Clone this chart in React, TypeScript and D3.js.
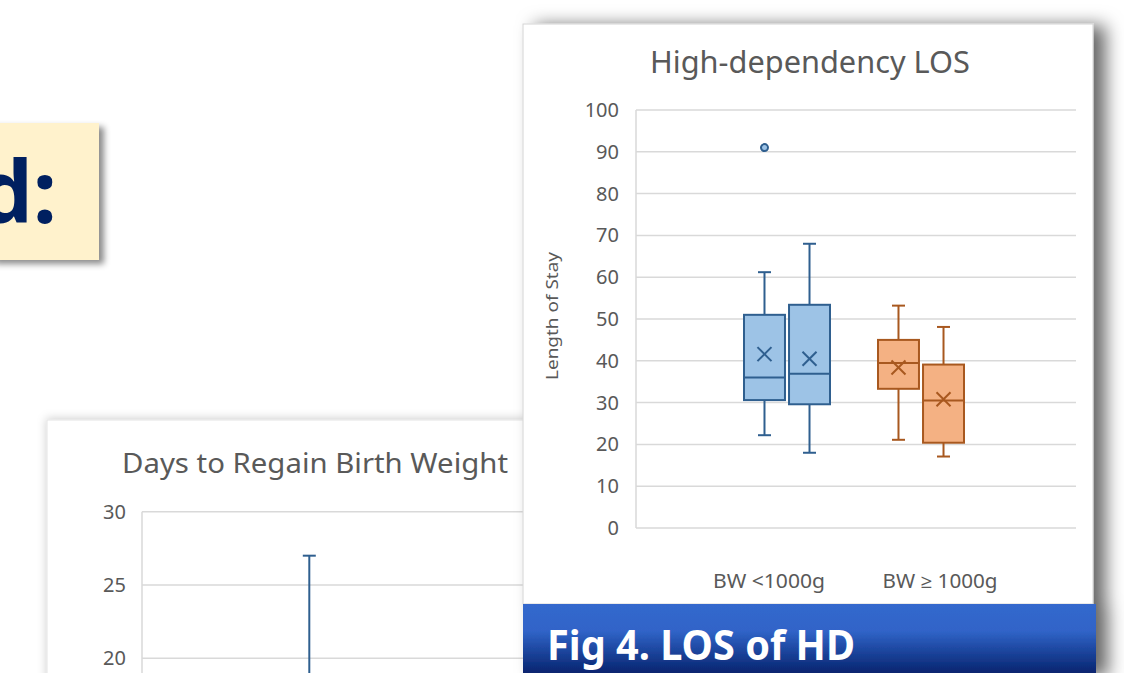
import React from 'react';
import * as d3 from 'd3';

// main chart: High-dependency LOS (box plots, two per birth-weight group)
const categories = ['BW <1000g', 'BW ≥ 1000g'];
const boxCategory = [0, 0, 1, 1];
const boxSlot = ['a', 'b', 'a', 'b'];
const whiskerLow = [22.2, 18.0, 21.1, 17.1];
const quartile1 = [30.6, 29.6, 33.3, 20.4];
const medians = [36.0, 36.9, 39.5, 30.5];
const quartile3 = [51.0, 53.4, 45.0, 39.1];
const whiskerHigh = [61.2, 68.0, 53.2, 48.1];
const means = [41.6, 40.5, 38.4, 30.8];
const outliers = [[91], [], [], []];
const yTicks = [0, 10, 20, 30, 40, 50, 60, 70, 80, 90, 100];

// partly hidden chart behind: Days to Regain Birth Weight
const bwTicks = [20, 25, 30];
const bwWhiskerHigh = [27];
const bwQuartile3 = [14];

const fills = ['#9dc3e6', '#f4b183'];
const strokes = ['#2f5f8f', '#a8581f'];
const textGray = '#595959';
const gridGray = '#d9d9d9';
const font = "'Noto Sans', 'Open Sans', sans-serif";

export default function App() {
  const W = 1124,
    H = 673;

  // main panel geometry
  const panel = { x: 523, y: 24, w: 570, h: 580 };
  const plot = { left: 636, right: 1076, top: 110, bottom: 528 };

  const y = d3.scaleLinear().domain([0, 100]).range([plot.bottom, plot.top]);
  const groupX = d3.scaleBand().domain(categories).range([720, 988]);
  const slotX = d3.scaleBand().domain(['a', 'b']).range([24, 110]).paddingInner(0.09);
  const labelX = d3.scalePoint().domain(categories).range([769, 940]);
  const bw = slotX.bandwidth();

  // background chart geometry
  const yb = d3.scaleLinear().domain([20, 30]).range([658.3, 511.7]);
  const xb = d3.scalePoint().domain(['a']).range([309.3, 309.3]);

  return (
    <svg width={W} height={H} style={{ position: 'fixed', left: 0, top: 0, background: '#fff' }}>
      <defs>
        <filter id="panelShadow" x="-15%" y="-15%" width="135%" height="130%">
          <feDropShadow dx={12} dy={2} stdDeviation={9} floodColor="#000" floodOpacity={0.6} />
        </filter>
        <filter id="softShadow" x="-10%" y="-10%" width="120%" height="120%">
          <feDropShadow dx={0} dy={-1} stdDeviation={5} floodColor="#000" floodOpacity={0.2} />
        </filter>
        <filter id="boxShadow" x="-20%" y="-20%" width="140%" height="140%">
          <feDropShadow dx={5} dy={4} stdDeviation={3} floodColor="#000" floodOpacity={0.45} />
        </filter>
        <linearGradient id="banner" x1="0" y1="0" x2="0" y2="1">
          <stop offset="0" stopColor="#3468cd" />
          <stop offset="0.38" stopColor="#3064c8" />
          <stop offset="1" stopColor="#05216b" />
        </linearGradient>
      </defs>

      {/* title box on the slide */}
      <rect x={-10} y={123} width={109} height={137} fill="#fff2cc" filter="url(#boxShadow)" />
      <text x={57} y={223} textAnchor="end" fontFamily={font} fontWeight={700} fontSize={86} fill="#002060">
        d:
      </text>

      {/* chart behind */}
      <g>
        <rect x={47} y={420} width={490} height={300} fill="#fff" stroke="#e3e3e3" filter="url(#softShadow)" />
        <text x={315} y={473} textAnchor="middle" fontFamily={font} fontSize={28} fill={textGray} textLength={386} lengthAdjust="spacingAndGlyphs">
          Days to Regain Birth Weight
        </text>
        {bwTicks.map((t) => (
          <g key={t}>
            <line x1={142} x2={540} y1={yb(t)} y2={yb(t)} stroke={gridGray} strokeWidth={1.5} />
            <text x={126} y={yb(t)} dy="0.35em" textAnchor="end" fontFamily={font} fontSize={20} fill={textGray}>
              {t}
            </text>
          </g>
        ))}
        <line x1={142} x2={142} y1={yb(30)} y2={H} stroke={gridGray} strokeWidth={1.5} />
        {bwWhiskerHigh.map((v, i) => (
          <g key={i} stroke={strokes[0]} strokeWidth={2}>
            <line x1={xb('a')} x2={xb('a')} y1={yb(v)} y2={yb(bwQuartile3[i])} />
            <line x1={xb('a')! - 6.5} x2={xb('a')! + 6.5} y1={yb(v)} y2={yb(v)} />
          </g>
        ))}
      </g>

      {/* main panel */}
      <g filter="url(#panelShadow)">
        <rect x={panel.x} y={panel.y} width={panel.w} height={panel.h} fill="#fff" stroke="#d4d4d4" />
        <rect x={panel.x} y={604} width={573} height={H - 604 + 2} fill="url(#banner)" />
      </g>
      <text x={810} y={73} textAnchor="middle" fontFamily={font} fontSize={30} fill={textGray} textLength={320} lengthAdjust="spacingAndGlyphs">
        High-dependency LOS
      </text>

      {yTicks.map((t) => (
        <g key={t}>
          <line x1={plot.left} x2={plot.right} y1={y(t)} y2={y(t)} stroke={gridGray} strokeWidth={1.5} />
          <text x={619} y={y(t)} dy="0.35em" textAnchor="end" fontFamily={font} fontSize={20} fill={textGray}>
            {t}
          </text>
        </g>
      ))}
      <line x1={plot.left} x2={plot.left} y1={y(100)} y2={y(0)} stroke={gridGray} strokeWidth={1.5} />

      <text
        transform={`translate(558,316) rotate(-90)`}
        textAnchor="middle"
        fontFamily={font}
        fontSize={17}
        fill={textGray}
        textLength={128}
        lengthAdjust="spacingAndGlyphs"
      >
        Length of Stay
      </text>

      {quartile1.map((q1, i) => {
        const c = boxCategory[i];
        const x0 = groupX(categories[c])! + slotX(boxSlot[i])!;
        const cx = x0 + bw / 2;
        const col = strokes[c];
        const my = y(means[i]);
        return (
          <g key={i} stroke={col} strokeWidth={2}>
            <line x1={cx} x2={cx} y1={y(whiskerHigh[i])} y2={y(quartile3[i])} />
            <line x1={cx} x2={cx} y1={y(q1)} y2={y(whiskerLow[i])} />
            <line x1={cx - 6.5} x2={cx + 6.5} y1={y(whiskerHigh[i])} y2={y(whiskerHigh[i])} />
            <line x1={cx - 6.5} x2={cx + 6.5} y1={y(whiskerLow[i])} y2={y(whiskerLow[i])} />
            <rect x={x0} y={y(quartile3[i])} width={bw} height={y(q1) - y(quartile3[i])} fill={fills[c]} />
            <line x1={x0} x2={x0 + bw} y1={y(medians[i])} y2={y(medians[i])} />
            <line x1={cx - 7} x2={cx + 7} y1={my - 7} y2={my + 7} />
            <line x1={cx - 7} x2={cx + 7} y1={my + 7} y2={my - 7} />
            {outliers[i].map((o, j) => (
              <circle key={j} cx={cx} cy={y(o)} r={3.5} fill={fills[c]} />
            ))}
          </g>
        );
      })}

      {categories.map((cat) => (
        <text key={cat} x={labelX(cat)} y={588} textAnchor="middle" fontFamily={font} fontSize={19} fill={textGray} textLength={cat.length > 9 ? 115 : 112} lengthAdjust="spacingAndGlyphs">
          {cat}
        </text>
      ))}

      <text x={547} y={660} fontFamily={font} fontWeight={700} fontSize={41} fill="#fff" textLength={308} lengthAdjust="spacingAndGlyphs">
        Fig 4. LOS of HD
      </text>
    </svg>
  );
}
